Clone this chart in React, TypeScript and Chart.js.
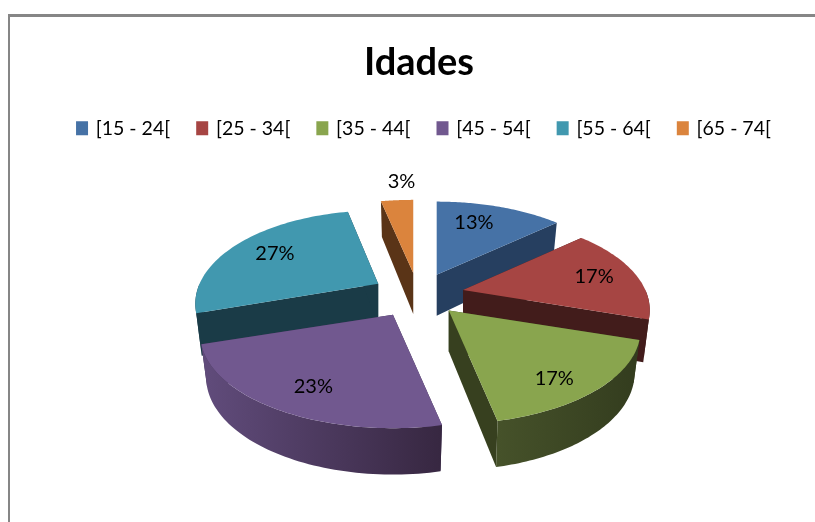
import React, { useEffect, useRef } from "react";
import { Chart, registerables } from "chart.js";

Chart.register(...registerables);

const chartTitle = "Idades";
const categories = ["[15 - 24[", "[25 - 34[", "[35 - 44[", "[45 - 54[", "[55 - 64[", "[65 - 74["];
const percentages = [13.3, 16.7, 16.7, 23.3, 26.7, 3.3];
const topColors = ["#4672A6", "#A64543", "#89A54E", "#71588F", "#4198AF", "#DB843D"];
const cutColors = ["#263F60", "#421C1B", "#37401F", "#3D2F50", "#1A3B47", "#5A3417"];
const wallLeft = ["#263F60", "#421C1B", "#46522A", "#614C7C", "#1A3B47", "#5A3417"];
const wallRight = ["#263F60", "#421C1B", "#333C1E", "#372741", "#1A3B47", "#5A3417"];
const explosion = [46, 46, 46, 50, 46, 46];
const sliceWidths = [0.975, 0.96, 0.985, 0.99, 0.94, 1];
const labelRadii = [0.71, 0.76, 0.78, 0.73, 0.72, 1.33];
const labelTurns = [-5, 0, 3, 0, 0, 2.5];

const FONT = "Lato, 'Open Sans', sans-serif";
const RADIUS = 190;
const VERT = 89;
const PERSP = 0.215;
const DEPTH = 41;

const project = (tx: number, ty: number, theta: number, f: number, low: boolean, sw: number) => {
  const u = f * Math.sin(theta);
  const v = -f * Math.cos(theta);
  const w = 1 / (1 - PERSP * v);
  return {
    x: tx + RADIUS * sw * (low ? 0.97 : 1) * u * w,
    y: ty + VERT * v * w + (low ? DEPTH * (1 + 0.13 * v) : 0),
  };
};

const pie3d = {
  id: "pie3d",
  afterLayout(chart: any) {
    chart.legend.left += 5.5;
    chart.legend.right += 5.5;
  },
  beforeDatasetDraw(chart: any) {
    const ctx = chart.ctx;
    const arcs = chart.getDatasetMeta(0).data;
    const slices = arcs.map((arc: any, i: number) => {
      const t1 = arc.startAngle + Math.PI / 2;
      const t2 = arc.endAngle + Math.PI / 2;
      const mid = (t1 + t2) / 2;
      return {
        i,
        t1,
        t2,
        mid,
        sw: sliceWidths[i],
        tx: arc.x - 1 + arc.options.offset * Math.sin(mid),
        ty: arc.y - (arc.options.offset * VERT * Math.cos(mid)) / RADIUS,
      };
    });
    const order = [...slices].sort((a, b) => -Math.cos(a.mid) - -Math.cos(b.mid));
    const poly = (pts: { x: number; y: number }[], fill: any) => {
      ctx.beginPath();
      pts.forEach((p, k) => (k ? ctx.lineTo(p.x, p.y) : ctx.moveTo(p.x, p.y)));
      ctx.closePath();
      ctx.fillStyle = fill;
      ctx.fill();
    };
    const curve = (s: any, a: number, b: number, low: boolean) => {
      const pts = [];
      for (let k = 0; k <= 60; k++) pts.push(project(s.tx, s.ty, a + ((b - a) * k) / 60, 1, low, s.sw));
      return pts;
    };
    ctx.save();
    for (const s of order) {
      const tipT = project(s.tx, s.ty, 0, 0, false, s.sw);
      const tipB = project(s.tx, s.ty, 0, 0, true, s.sw);
      const endsT = [project(s.tx, s.ty, s.t1, 1, false, s.sw), project(s.tx, s.ty, s.t2, 1, false, s.sw)];
      const endsB = [project(s.tx, s.ty, s.t1, 1, true, s.sw), project(s.tx, s.ty, s.t2, 1, true, s.sw)];
      poly([tipT, endsT[0], endsB[0], tipB], cutColors[s.i]);
      poly([tipT, endsT[1], endsB[1], tipB], cutColors[s.i]);
      const a = Math.max(s.t1, Math.PI / 2);
      const b = Math.min(s.t2, (3 * Math.PI) / 2);
      if (b > a) {
        const top = curve(s, a, b, false);
        const low = curve(s, a, b, true);
        const xs = [...top, ...low].map((p) => p.x);
        const g = ctx.createLinearGradient(Math.min(...xs), 0, Math.max(...xs), 0);
        g.addColorStop(0, wallLeft[s.i]);
        g.addColorStop(1, wallRight[s.i]);
        poly([...top, ...low.reverse()], g);
      }
      poly([tipT, ...curve(s, s.t1, s.t2, false)], topColors[s.i]);
    }
    ctx.fillStyle = "#000";
    ctx.font = `20px ${FONT}`;
    ctx.textAlign = "center";
    ctx.textBaseline = "middle";
    for (const s of slices) {
      const angle = s.mid + (labelTurns[s.i] * Math.PI) / 180;
      const p = project(s.tx, s.ty, angle, labelRadii[s.i], false, s.sw);
      const v = -Math.cos(s.mid);
      ctx.fillText(`${Math.round(percentages[s.i])}%`, p.x, p.y + 8 * Math.max(0, v));
    }
    ctx.restore();
    return false;
  },
};

export default function App() {
  const ref = useRef<HTMLCanvasElement>(null);
  useEffect(() => {
    const chart = new Chart(ref.current!, {
      type: "pie",
      data: {
        labels: categories,
        datasets: [
          {
            data: percentages,
            backgroundColor: topColors,
            borderColor: topColors,
            borderWidth: 4,
            offset: explosion,
            radius: RADIUS,
          } as any,
        ],
      },
      options: {
        responsive: false,
        animation: false,
        rotation: 0,
        layout: { padding: { top: 0, bottom: 81 } },
        plugins: {
          tooltip: { enabled: false },
          title: {
            display: true,
            text: chartTitle,
            color: "#000",
            font: { family: FONT, size: 38, weight: "bold" },
            padding: { top: 23, bottom: 5 },
          },
          legend: {
            position: "top",
            labels: {
              color: "#000",
              font: { family: FONT, size: 19.5 },
              boxWidth: 8,
              boxHeight: 10,
              padding: 28,
            },
          },
        },
      },
      plugins: [pie3d],
    } as any);
    return () => chart.destroy();
  }, []);
  return (
    <div
      style={{
        position: "fixed",
        left: 8,
        top: 14,
        width: 807,
        height: 508,
        overflow: "hidden",
        background: "#fff",
        borderTop: "3px solid #868686",
        borderLeft: "2px solid #868686",
        boxSizing: "border-box",
      }}
    >
      <canvas ref={ref} width={818} height={505} style={{ display: "block" }} />
    </div>
  );
}
